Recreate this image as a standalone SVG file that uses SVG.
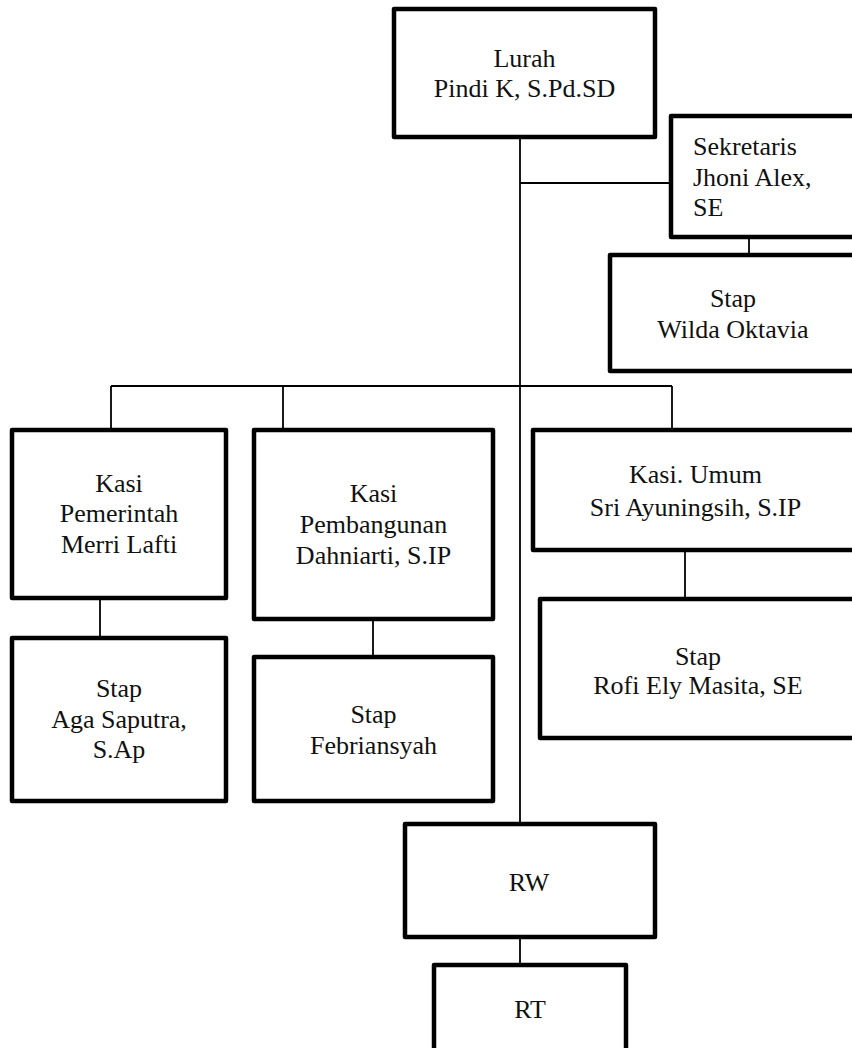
<svg xmlns="http://www.w3.org/2000/svg" width="852" height="1048" viewBox="0 0 852 1048">
<style>
.box{fill:#fff;stroke:#000;stroke-width:4.5;stroke-linejoin:round}
.ln{stroke:#000;stroke-width:1.8;fill:none}
text{font-family:'Liberation Serif','Times New Roman',serif;font-size:26px;fill:#111}
.c{text-anchor:middle}
</style>
<rect width="852" height="1048" fill="#fff"/>
<g id="connectors">
<line class="ln" x1="520" y1="139" x2="520" y2="822"/>
<line class="ln" x1="520" y1="183" x2="669" y2="183"/>
<line class="ln" x1="749" y1="239" x2="749" y2="253"/>
<line class="ln" x1="111" y1="386" x2="672" y2="386"/>
<line class="ln" x1="111" y1="386" x2="111" y2="428"/>
<line class="ln" x1="283" y1="386" x2="283" y2="428"/>
<line class="ln" x1="672" y1="386" x2="672" y2="428"/>
<line class="ln" x1="100" y1="600" x2="100" y2="636"/>
<line class="ln" x1="373" y1="621" x2="373" y2="655"/>
<line class="ln" x1="685" y1="552" x2="685" y2="597"/>
<line class="ln" x1="520" y1="939" x2="520" y2="963"/>
</g>
<g id="lurah">
<rect class="box" x="394" y="9" width="261" height="128"/>
<text class="c" x="524.5" y="67">Lurah</text>
<text class="c" x="524.5" y="97">Pindi K, S.Pd.SD</text>
</g>
<g id="sekretaris">
<rect class="box" x="671" y="116" width="190" height="121"/>
<text x="693" y="155">Sekretaris</text>
<text x="693" y="186">Jhoni Alex,</text>
<text x="693" y="216">SE</text>
</g>
<g id="stap-wilda">
<rect class="box" x="610" y="255" width="246" height="116"/>
<text class="c" x="733" y="307">Stap</text>
<text class="c" x="733" y="338">Wilda Oktavia</text>
</g>
<g id="kasi-pemerintah">
<rect class="box" x="12" y="430" width="214" height="168"/>
<text class="c" x="119" y="492">Kasi</text>
<text class="c" x="119" y="522">Pemerintah</text>
<text class="c" x="119" y="553">Merri Lafti</text>
</g>
<g id="stap-aga">
<rect class="box" x="12" y="638" width="214" height="163"/>
<text class="c" x="119" y="697">Stap</text>
<text class="c" x="119" y="728">Aga Saputra,</text>
<text class="c" x="119" y="758">S.Ap</text>
</g>
<g id="kasi-pembangunan">
<rect class="box" x="254" y="430" width="239" height="189"/>
<text class="c" x="373.5" y="502">Kasi</text>
<text class="c" x="373.5" y="533">Pembangunan</text>
<text class="c" x="373.5" y="564">Dahniarti, S.IP</text>
</g>
<g id="stap-febriansyah">
<rect class="box" x="254" y="657" width="239" height="144"/>
<text class="c" x="373.5" y="723">Stap</text>
<text class="c" x="373.5" y="754">Febriansyah</text>
</g>
<g id="kasi-umum">
<rect class="box" x="533" y="430" width="325" height="120"/>
<text class="c" x="695.5" y="483">Kasi. Umum</text>
<text class="c" x="695.5" y="516">Sri Ayuningsih, S.IP</text>
</g>
<g id="stap-rofi">
<rect class="box" x="540" y="599" width="316" height="139"/>
<text class="c" x="698" y="665">Stap</text>
<text class="c" x="698" y="694">Rofi Ely Masita, SE</text>
</g>
<g id="rw">
<rect class="box" x="405" y="824" width="250" height="113"/>
<text class="c" x="529" y="891">RW</text>
</g>
<g id="rt">
<rect class="box" x="434" y="965" width="192" height="100"/>
<text class="c" x="530" y="1018">RT</text>
</g>
</svg>
